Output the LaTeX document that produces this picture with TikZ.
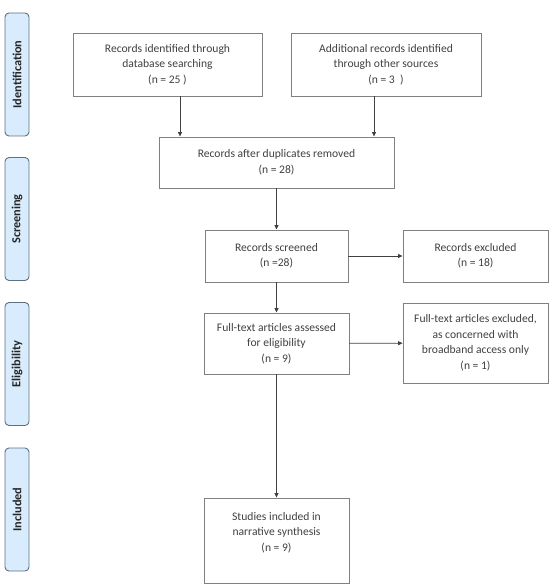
\documentclass[tikz,border=0pt]{standalone}
\usepackage{fontspec}
\setmainfont{Carlito}
\usetikzlibrary{arrows.meta}
\definecolor{boxline}{HTML}{808080}
\definecolor{boxtext}{HTML}{404040}
\definecolor{stagefill}{HTML}{D9ECFD}
\definecolor{stageline}{HTML}{5F7080}
\tikzset{
  box/.style={draw=boxline, line width=0.9pt, text=boxtext, align=center,
    font=\fontsize{11.6}{15.5}\selectfont, inner sep=0pt},
  stage/.style={draw=stageline, fill=stagefill, line width=0.9pt, rounded corners=4pt,
    minimum width=24pt, minimum height=123pt, inner sep=0pt},
  stagetext/.style={rotate=90, font=\fontsize{12.3}{14}\selectfont\bfseries, text=black!85},
  arr/.style={draw=boxtext, line width=0.8pt, -{Triangle[length=4.5pt,width=4pt]}}
}
\begin{document}
\begin{tikzpicture}[x=1pt, y=-1pt]
  \useasboundingbox (0,0) rectangle (551,588);
  % phases
  \draw
    (17,74.5) node[stage] (s1){}
    (17,219) node[stage] (s2){}
    (17,364) node[stage] (s3){}
    (17,509.5) node[stage] (s4){};
  \node[stagetext] at (s1) {Identification};
  \node[stagetext] at (s2) {Screening};
  \node[stagetext] at (s3) {Eligibility};
  \node[stagetext] at (s4) {Included};
  % boxes
  \draw
    (167.5,64.5) node[box, minimum width=189pt, minimum height=63pt] (id1)
      {Records identified through\\database searching\\(n = 25 )}
    (386,64.5) node[box, minimum width=190pt, minimum height=63pt] (id2)
      {Additional records identified\\through other sources\\(n = 3 \ )}
    (276.5,162.5) node[box, minimum width=235pt, minimum height=51pt] (dup)
      {Records after duplicates removed\\(n = 28)}
    (276.5,256) node[box, minimum width=143pt, minimum height=52pt] (scr)
      {Records screened\\(n =28)}
    (475.5,256) node[box, minimum width=145pt, minimum height=52pt] (exc)
      {Records excluded\\(n = 18)}
    (276.5,343.5) node[box, minimum width=145pt, minimum height=61pt] (ft)
      {Full-text articles assessed\\for eligibility\\(n = 9)}
    (475.5,343) node[box, minimum width=145pt, minimum height=80pt] (ftx)
      {Full-text articles excluded,\\as concerned with\\broadband access only\\(n = 1)}
    (276.5,540.5) node[box, minimum width=145pt, minimum height=85pt] (inc)
      {Studies included in\\narrative synthesis\\(n = 9)\\[2.5pt]\mbox{}};
  % arrows
  \begin{scope}[arr]
    \draw ([xshift=12.5pt]id1.south) -- ([xshift=12.5pt]id1.south |- dup.north);
    \draw ([xshift=-12pt]id2.south) -- ([xshift=-12pt]id2.south |- dup.north);
    \draw (dup) -- (scr);
    \draw (scr) -- (exc);
    \draw (scr) -- (ft);
    \draw (ft) -- (ftx);
    \draw (ft) -- (inc);
  \end{scope}
\end{tikzpicture}
\end{document}
